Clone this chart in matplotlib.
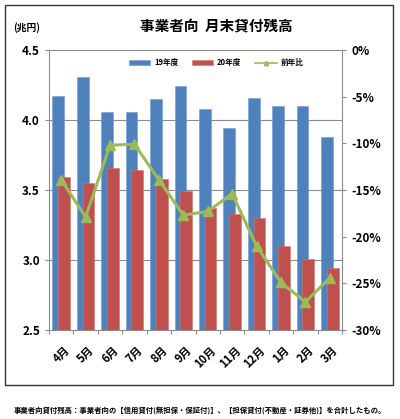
import matplotlib
matplotlib.use("Agg")
import matplotlib.pyplot as plt
import matplotlib.transforms as mtransforms
import numpy as np
from matplotlib.patches import Rectangle

plt.rcParams["font.family"] = ["Noto Sans CJK JP", "DejaVu Sans"]

months = ["4月", "5月", "6月", "7月", "8月", "9月", "10月", "11月", "12月", "1月", "2月", "3月"]
fy19 = [4.17, 4.31, 4.06, 4.055, 4.15, 4.24, 4.08, 3.94, 4.16, 4.10, 4.10, 3.88]
fy20 = [3.59, 3.55, 3.655, 3.645, 3.575, 3.49, 3.37, 3.33, 3.30, 3.10, 3.01, 2.94]
yoy = [-13.9, -17.9, -10.2, -10.1, -13.9, -17.7, -17.3, -15.4, -21.0, -24.9, -27.0, -24.4]

BLUE = "#4F81BD"
RED = "#C0504D"
GREEN = "#9BBB59"
GRID = "#8c8c8c"

fig = plt.figure(figsize=(4.0, 4.19), dpi=100)
ax = fig.add_axes([0.1225, 0.2124, 0.7325, 0.6683])

x = np.arange(len(months))
w = 0.48
off = 0.117
b1 = ax.bar(x - off, fy19, w, color=BLUE, edgecolor="#6f9bd1",
            linewidth=0.4, label="19年度", zorder=2)
b2 = ax.bar(x + off, fy20, w, color=RED, edgecolor="#d77470",
            linewidth=0.4, label="20年度", zorder=3)

ax.set_ylim(2.5, 4.5)
ax.set_xlim(-0.5, len(months) - 0.5)
ax.set_yticks([2.5, 3.0, 3.5, 4.0, 4.5])
ax.set_yticklabels(["2.5", "3.0", "3.5", "4.0", "4.5"], fontsize=8.5,
                   fontweight="bold")
for y in [3.0, 3.5, 4.0, 4.5]:
    ax.axhline(y, color=GRID, linewidth=0.8, zorder=1)

ax.set_xticks(np.arange(-0.5, len(months), 1.0))
ax.set_xticklabels([])
ax.set_xticks(x, minor=True)
ax.set_xticklabels(months, minor=True, rotation=45, ha="right",
                   rotation_mode="anchor", fontsize=8, fontweight="bold")
ax.tick_params(axis="x", which="minor", length=0, pad=10)
ax.tick_params(axis="x", which="major", length=3, color=GRID)
ax.tick_params(axis="y", length=3, color=GRID)
shift = mtransforms.ScaledTranslation(2 / 100, 0, fig.dpi_scale_trans)
for lbl in ax.get_xticklabels(minor=True):
    lbl.set_transform(lbl.get_transform() + shift)

for s in ["top", "right"]:
    ax.spines[s].set_visible(False)
for s in ["left", "bottom"]:
    ax.spines[s].set_color(GRID)
    ax.spines[s].set_linewidth(0.8)

ax2 = ax.twinx()
ln, = ax2.plot(x, yoy, color=GREEN, linewidth=2.2, marker="^", markersize=7,
               markerfacecolor=GREEN, markeredgecolor=GREEN, label="前年比", zorder=5)
ax2.set_ylim(-30, 0)
ax2.set_yticks(np.arange(-30, 1, 5))
ax2.set_yticklabels([f"{v}%" for v in range(-30, 1, 5)], fontsize=8.5,
                    fontweight="bold")
ax2.tick_params(axis="y", length=3, color=GRID)
for s in ["top", "left", "bottom"]:
    ax2.spines[s].set_visible(False)
ax2.spines["right"].set_color(GRID)
ax2.spines["right"].set_linewidth(0.8)

leg = fig.legend(handles=[b1, b2, ln], loc="center", bbox_to_anchor=(0.54, 0.85),
                 ncol=3, frameon=False, handlelength=2.8,
                 handleheight=0.5, columnspacing=1.8, handletextpad=0.5,
                 markerscale=0.45, prop={"weight": "bold", "size": 5.5})
leg.get_lines()[0].set_linewidth(1.2)

fig.text(0.54, 0.94, "事業者向  月末貸付残高", ha="center", va="center",
         fontsize=10.5, fontweight="bold")
fig.text(0.032, 0.935, "(兆円)", ha="left", va="center", fontsize=7,
         fontweight="bold")

fig.patches.append(Rectangle((5 / 400, 1 - 385 / 419), 388 / 400, 380 / 419,
                             transform=fig.transFigure, fill=False,
                             edgecolor="#333333", linewidth=1.0))

fig.text(0.035, 1 - 410 / 419,
         "事業者向貸付残高：事業者向の【信用貸付(無担保・保証付)】、【担保貸付(不動産・証券他)】を合計したもの。",
         ha="left", va="center", fontsize=5.3, fontweight="bold")

fig.savefig("out.png", dpi=100)
